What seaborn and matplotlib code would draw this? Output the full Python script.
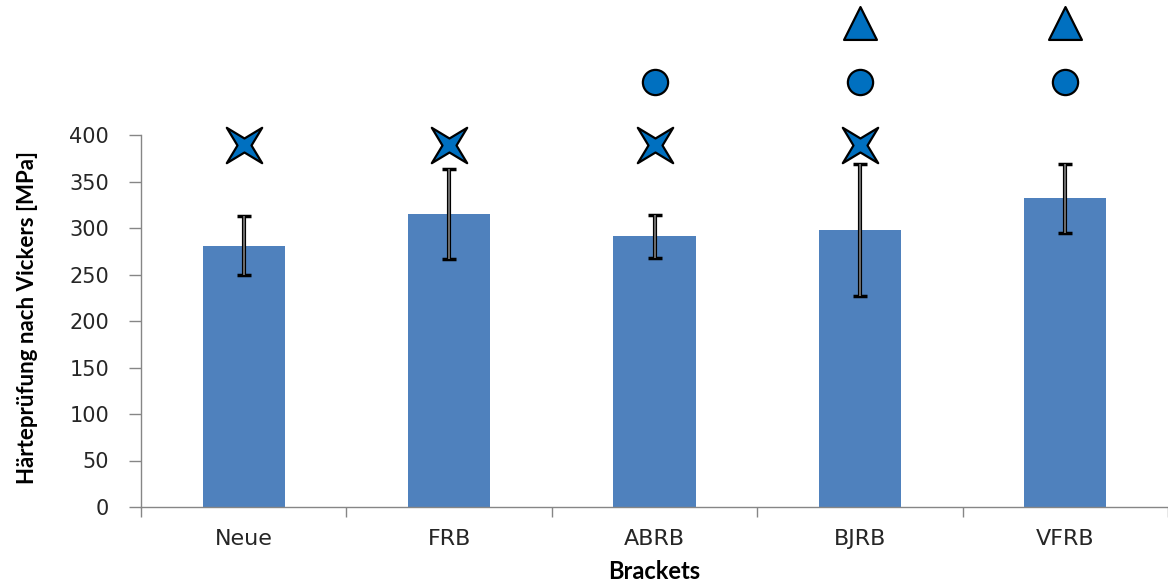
import numpy as np
import pandas as pd
import matplotlib
matplotlib.use("Agg")
import matplotlib.pyplot as plt
from matplotlib.path import Path
import seaborn as sns

# Mean Vickers hardness per bracket group and its standard deviation
categories = ["Neue", "FRB", "ABRB", "BJRB", "VFRB"]
hardness = [281, 315, 291, 298, 332]
std_dev = [32, 48, 23, 71, 37]

# Significance symbols drawn above the bars (group, level)
star_groups = ["Neue", "FRB", "ABRB", "BJRB"]
star_level = 389
circle_groups = ["ABRB", "BJRB", "VFRB"]
circle_level = 457
triangle_groups = ["BJRB", "VFRB"]
triangle_level = 520

y_ticks = [0, 50, 100, 150, 200, 250, 300, 350, 400]

bar_color = "#4F81BD"
mark_color = "#0070C0"
axis_gray = "#868686"

sns.set_theme(style="white")
plt.rcParams["font.family"] = ["DejaVu Sans"]

fig = plt.figure(figsize=(11.68, 5.85), dpi=100)
ax = fig.add_axes([141 / 1168, 1 - 507 / 585, 1 - 141 / 1168, (507 - 135) / 585])

df = pd.DataFrame({"Bracket": categories, "Hardness": hardness})
sns.barplot(data=df, x="Bracket", y="Hardness", color=bar_color, width=0.4,
            saturation=1, errorbar=None, ax=ax, zorder=2, linewidth=0)

pos = {c: i for i, c in enumerate(categories)}
xs = np.arange(len(categories))

# Error bars: dark outline with a lighter core
ax.errorbar(xs, hardness, yerr=std_dev, fmt="none", ecolor="black",
            elinewidth=3, capsize=5, capthick=2.5, zorder=3)
ax.errorbar(xs, hardness, yerr=std_dev, fmt="none", ecolor="#7f7f7f",
            elinewidth=1.2, capsize=0, zorder=4)

# Four-pointed concave star rotated to look like an X
angles = np.deg2rad(np.arange(8) * 45 + 45)
radii = np.where(np.arange(8) % 2 == 0, 1.0, 0.28)
star_verts = np.column_stack([radii * np.cos(angles), radii * np.sin(angles)])
star_verts = np.vstack([star_verts, star_verts[:1]])
star_path = Path(star_verts, [Path.MOVETO] + [Path.LINETO] * 7 + [Path.CLOSEPOLY])

ax.scatter([pos[g] for g in star_groups], [star_level] * len(star_groups),
           marker=star_path, s=650, color=mark_color, edgecolor="black",
           linewidth=1.6, clip_on=False, zorder=5)
ax.scatter([pos[g] for g in circle_groups], [circle_level] * len(circle_groups),
           marker="o", s=330, color=mark_color, edgecolor="black",
           linewidth=1.6, clip_on=False, zorder=5)
ax.scatter([pos[g] for g in triangle_groups], [triangle_level] * len(triangle_groups),
           marker="^", s=560, color=mark_color, edgecolor="black",
           linewidth=1.6, clip_on=False, zorder=5)

ax.set_xlim(-0.5, len(categories) - 0.5)
ax.set_ylim(0, 400)
ax.set_yticks(y_ticks)
ax.set_yticklabels([str(v) for v in y_ticks], fontsize=15, color="#262626")

# Category boundaries carry the tick marks, labels sit at the centers
ax.set_xticks(np.arange(len(categories) + 1) - 0.5)
ax.set_xticklabels([])
ax.set_xticks(xs, minor=True)
ax.set_xticklabels(categories, minor=True, fontsize=16, color="#262626")
ax.tick_params(axis="x", which="minor", length=0, pad=16)
ax.tick_params(axis="x", which="major", length=7, width=1, color=axis_gray,
               direction="out", bottom=True)
ax.tick_params(axis="y", length=9, width=1, color=axis_gray, direction="out",
               left=True, pad=14)

for side in ["top", "right"]:
    ax.spines[side].set_visible(False)
for side in ["left", "bottom"]:
    ax.spines[side].set_color(axis_gray)
    ax.spines[side].set_linewidth(1)

ax.set_xlabel("Brackets", fontsize=17, fontweight="bold",
              family=["Lato", "DejaVu Sans"], labelpad=8, color="black")
ax.set_ylabel("Härteprüfung nach Vickers [MPa]", fontsize=16, fontweight="bold",
              family=["Lato", "DejaVu Sans"], color="black")
ax.yaxis.set_label_coords(-0.10, 0.51)
ax.grid(False)

fig.savefig("out.png", dpi=100)
